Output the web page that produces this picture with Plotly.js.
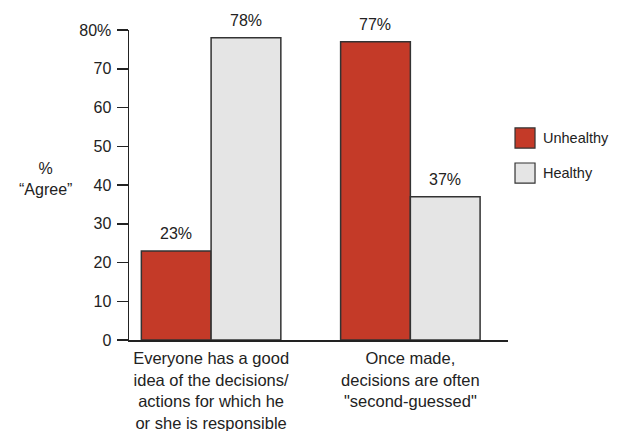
<!DOCTYPE html>
<html><head><meta charset="utf-8">
<script src="https://cdn.plot.ly/plotly-3.0.1.min.js"></script>
<style>body{margin:0}#c{width:619px;height:431px}</style>
</head><body><div id="c"></div>
<script>
const categories = ["Everyone has a good<br>idea of the decisions/<br>actions for which he<br>or she is responsible", "Once made,<br>decisions are often<br>\"second-guessed\""];
const seriesNames = ["Unhealthy", "Healthy"];
const unhealthy = [23, 77];
const healthy = [78, 37];
const colors = ["#C43A28", "#E5E5E5"];
const yTickVals = [0, 10, 20, 30, 40, 50, 60, 70, 80];
const yTickText = ["0", "10", "20", "30", "40", "50", "60", "70", "80%"];

const fam = "Liberation Sans, Arial, sans-serif";
const font = {family: fam, size: 16, color: "#222"};
const xs = [0, 1];
const mk = (name, vals, col) => ({
  type: "bar", name: name, x: xs, y: vals,
  marker: {color: col, line: {color: "#333", width: 1.5}},
  showlegend: false, hoverinfo: "skip"
});
const series = [unhealthy, healthy];
const data = series.map((v, i) => mk(seriesNames[i], v, colors[i]));

const shapes = [], annotations = [];
series.forEach((vals, s) => vals.forEach((v, k) => {
  annotations.push({x: xs[k], y: v, xref: "x", yref: "y", xshift: s === 0 ? -35 : 35, yshift: 7,
    yanchor: "bottom", xanchor: "center", text: v + "%", showarrow: false, font: font});
}));
const legY = [[0.684, 0.619], [0.571, 0.506]];
seriesNames.forEach((n, i) => {
  shapes.push({type: "rect", xref: "paper", yref: "paper", x0: 1.0185, x1: 1.0713, y0: legY[i][1], y1: legY[i][0],
    fillcolor: colors[i], line: {color: "#333", width: 1.2}});
  annotations.push({xref: "paper", yref: "paper", x: 1.088, y: (legY[i][0] + legY[i][1]) / 2, xanchor: "left", yanchor: "middle",
    text: n, showarrow: false, font: {family: fam, size: 14.5, color: "#222"}});
});
annotations.push({xref: "paper", yref: "paper", x: -0.22, y: 0.52, xanchor: "center", yanchor: "middle",
  text: "%<br>“Agree”", showarrow: false, font: font});

const layout = {
  width: 619, height: 431,
  margin: {l: 129, r: 111, t: 30, b: 91},
  paper_bgcolor: "#fff", plot_bgcolor: "#fff",
  font: font, barmode: "group", bargap: 0.3, bargroupgap: 0,
  showlegend: false,
  xaxis: {range: [-0.412, 1.49], tickvals: xs, ticktext: categories, showline: true, linecolor: "#222", linewidth: 1.5,
    ticks: "", ticklabelstandoff: 3, showgrid: false, zeroline: false, tickfont: {family: fam, size: 16.5, color: "#222"}, fixedrange: true},
  yaxis: {range: [0, 80], tickvals: yTickVals, ticktext: yTickText, showline: true, linecolor: "#222", linewidth: 1.5,
    ticks: "outside", ticklen: 11, tickwidth: 1.5, tickcolor: "#222", ticklabelstandoff: 2, showgrid: false, zeroline: false, tickfont: font, fixedrange: true},
  shapes: shapes, annotations: annotations
};
Plotly.newPlot("c", data, layout, {displayModeBar: false, staticPlot: true});
</script></body></html>
